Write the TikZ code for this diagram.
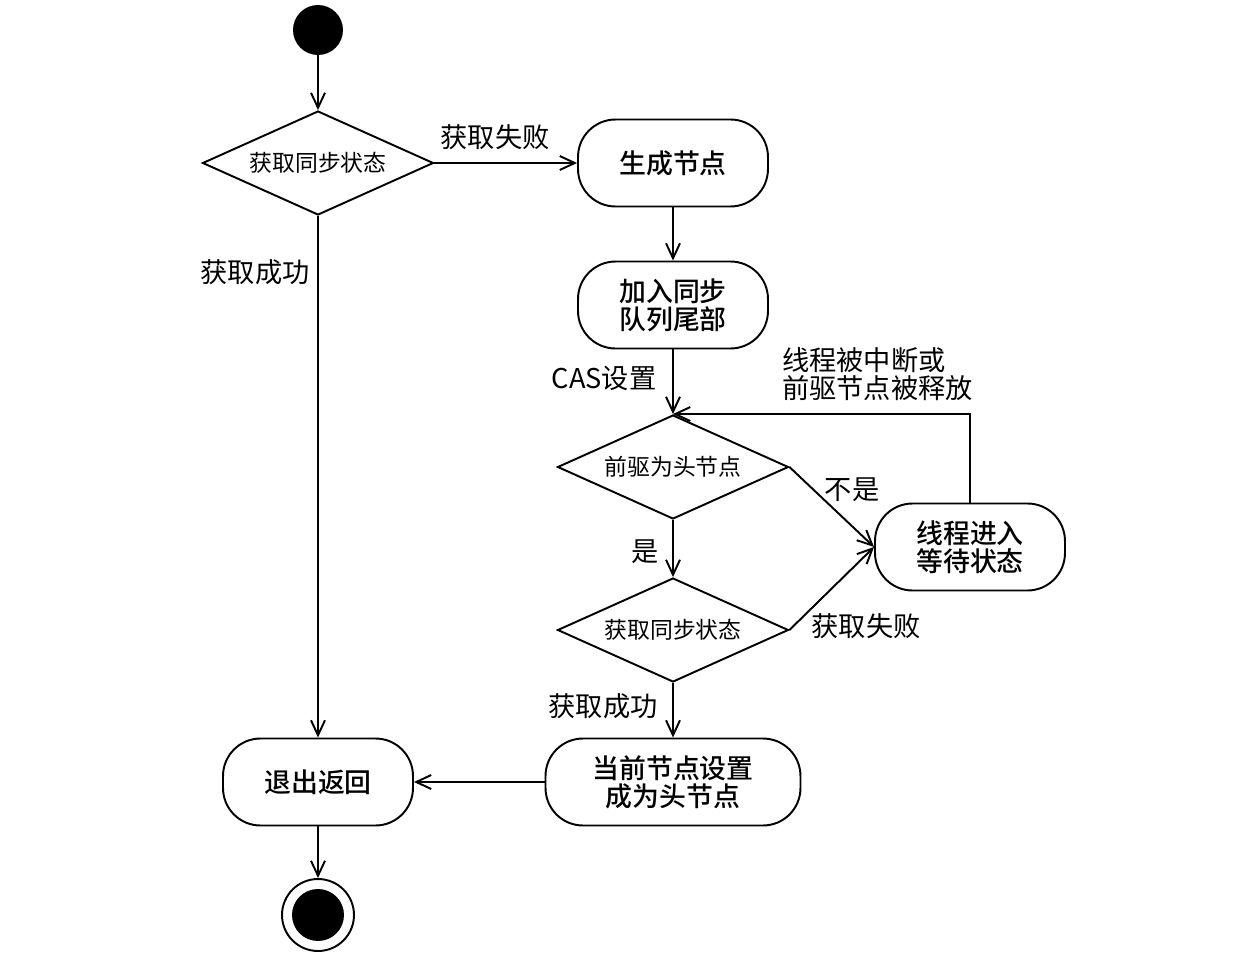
\documentclass[tikz,border=0pt]{standalone}
\usepackage{fontspec}
\setmainfont{Noto Sans CJK SC}[BoldFont={Noto Sans CJK SC Medium}]
\usetikzlibrary{shapes.geometric,arrows.meta,positioning}

\begin{document}
\begin{tikzpicture}[
  x=0.02cm, y=-0.02cm,
  act/.style={draw, line width=1.1pt, rounded corners=0.75cm,
              minimum width=3.8cm, minimum height=1.74cm,
              align=center, font=\fontsize{15.3}{16}\selectfont\bfseries},
  cond/.style={draw, diamond, line width=1.1pt, aspect=2.2, inner sep=0pt,
               minimum width=4.62cm, minimum height=2.08cm,
               font=\fontsize{13}{15}\selectfont},
  lbl/.style={font=\fontsize{15.5}{16}\selectfont, inner sep=1pt, align=left},
  arr/.style={-{Straight Barb[length=3mm,width=2.8mm]}, line width=1.1pt}
]
\useasboundingbox (0,0) rectangle (1252,960);
% activity nodes
\node[circle, fill, inner sep=0pt, minimum size=1cm] (start) at (318,30) {};
\node[cond] (getA) at (318,163) {获取同步状态};
\node[act] (gen) at (673,163) {生成节点};
\node[act] (enq) at (673,305) {加入同步\\队列尾部};
\node[cond] (isHead) at (673,467) {前驱为头节点};
\node[cond] (getB) at (673,630) {获取同步状态};
\node[act] (wait) at (970,547) {线程进入\\等待状态};
\node[act, minimum width=5.1cm] (setHead) at (673,782) {当前节点设置\\成为头节点};
\node[act] (exit) at (318,782) {退出返回};
\node[circle, draw, line width=1.1pt, inner sep=0pt, minimum size=1.44cm] (finish) at (318,915) {};
\node[circle, fill, inner sep=0pt, minimum size=1.04cm] (finishDot) at (finish.center) {};
% labels
\node[lbl] (failA) at (495,137) {获取失败};
\node[lbl] (okA) at (255,272) {获取成功};
\node[lbl] (cas) at (604,378) {CAS设置};
\node[lbl, anchor=west] (wake) at (780,374) {线程被中断或\\前驱节点被释放};
\node[lbl] (notHead) at (852,490) {不是};
\node[lbl] (yesHead) at (645,552) {是};
\node[lbl] (failB) at (866,626) {获取失败};
\node[lbl] (okB) at (603,706) {获取成功};
% flows
\draw[arr] (start) -- (getA);
\draw[arr] (getA) -- (gen);
\draw[arr] (getA) -- (exit);
\draw[arr] (gen) -- (enq);
\draw[arr] (enq) -- (isHead);
\draw[arr] (isHead) -- (getB);
\draw[arr] (isHead.east) -- (wait.west);
\draw[arr] (getB.east) -- (wait.west);
\draw[arr] (wait.north) |- (isHead.north);
\draw[arr] (getB) -- (setHead);
\draw[arr] (setHead) -- (exit);
\draw[arr] (exit) -- (finish);
\end{tikzpicture}
\end{document}
